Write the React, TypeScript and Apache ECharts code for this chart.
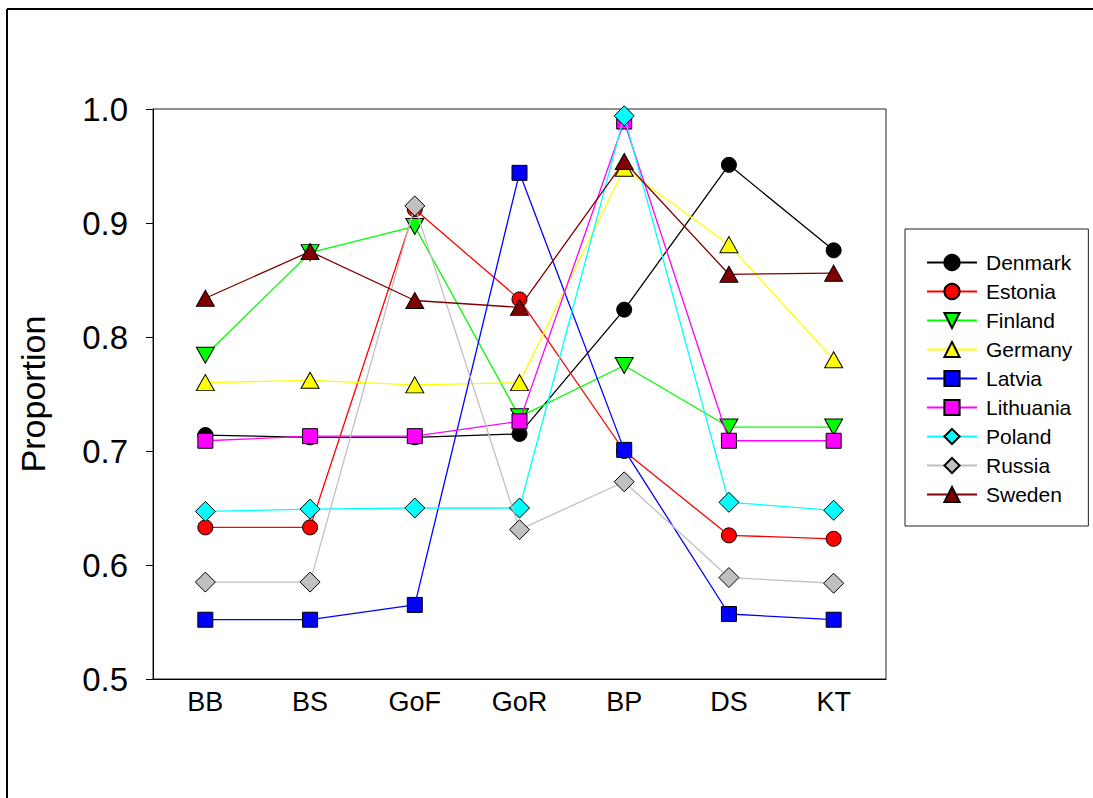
import React, { useEffect, useRef } from "react";
import * as echarts from "echarts";

const categories = ["BB", "BS", "GoF", "GoR", "BP", "DS", "KT"];
const yTicks = [0.5, 0.6, 0.7, 0.8, 0.9, 1.0];

const denmark = [0.714, 0.712, 0.712, 0.715, 0.824, 0.951, 0.876];
const estonia = [0.633, 0.633, 0.912, 0.833, 0.700, 0.626, 0.623];
const finland = [0.784, 0.874, 0.897, 0.730, 0.775, 0.721, 0.721];
const germany = [0.760, 0.762, 0.758, 0.760, 0.948, 0.881, 0.780];
const latvia = [0.552, 0.552, 0.565, 0.944, 0.701, 0.557, 0.552];
const lithuania = [0.709, 0.713, 0.713, 0.726, 0.989, 0.709, 0.709];
const poland = [0.647, 0.649, 0.650, 0.650, 0.994, 0.655, 0.648];
const russia = [0.585, 0.585, 0.915, 0.631, 0.673, 0.589, 0.584];
const sweden = [0.834, 0.875, 0.832, 0.826, 0.954, 0.855, 0.856];

const seriesNames = ["Denmark", "Estonia", "Finland", "Germany", "Latvia", "Lithuania", "Poland", "Russia", "Sweden"];
const seriesValues = [denmark, estonia, finland, germany, latvia, lithuania, poland, russia, sweden];
const seriesColors = ["#000000", "#ff0000", "#00ff00", "#ffff00", "#0000ff", "#ff00ff", "#00ffff", "#c0c0c0", "#800000"];
const seriesSymbols = ["circle", "circle", "triangle", "triangle", "rect", "rect", "diamond", "diamond", "triangle"];
const seriesRotate = [0, 0, 180, 0, 0, 0, 0, 0, 0];
const seriesSizes: any[] = [15, 15, [18, 16], [18, 16], 15, 15, 20, 20, [18, 16]];

const FONT = "Liberation Sans, Arial, sans-serif";

export default function App() {
  const ref = useRef<HTMLDivElement>(null);
  useEffect(() => {
    if (!ref.current) return;
    const chart = echarts.init(ref.current, null, { renderer: "svg" });
    const series = seriesNames.map((name, i) => ({
      name,
      type: "line",
      data: seriesValues[i],
      symbol: seriesSymbols[i],
      symbolSize: seriesSizes[i],
      symbolRotate: seriesRotate[i],
      showAllSymbol: true,
      lineStyle: { color: seriesColors[i], width: 1.3 },
      itemStyle: { color: seriesColors[i], borderColor: "#000", borderWidth: 1 },
      emphasis: { disabled: true },
      z: 2 + i,
    }));
    chart.setOption({
      animation: false,
      backgroundColor: "#fff",
      textStyle: { fontFamily: FONT },
      grid: {
        left: 153,
        top: 109,
        right: 207,
        bottom: 119,
        show: true,
        borderColor: "#222",
        borderWidth: 1,
        backgroundColor: "transparent",
      },
      legend: {
        orient: "vertical",
        left: 905,
        top: 229,
        padding: [23, 16, 21, 21],
        itemWidth: 50,
        itemHeight: 19,
        itemGap: 8,
        borderColor: "#222",
        borderWidth: 1,
        selectedMode: false,
        data: seriesNames,
        textStyle: { fontFamily: FONT, fontSize: 21, color: "#000", padding: [0, 0, 0, 4] },
      },
      xAxis: {
        type: "category",
        data: categories,
        boundaryGap: true,
        axisLine: { lineStyle: { color: "#000", width: 1 } },
        axisTick: { alignWithLabel: true, length: 7, lineStyle: { color: "#000" } },
        axisLabel: { fontSize: 27, color: "#000", margin: 9, fontFamily: FONT },
        splitLine: { show: false },
      },
      yAxis: {
        type: "value",
        min: 0.5,
        max: 1.0,
        interval: 0.1,
        name: "Proportion",
        nameLocation: "middle",
        nameRotate: 90,
        nameGap: 103,
        nameTextStyle: { fontSize: 34, color: "#000", fontFamily: FONT },
        axisLine: { show: true, lineStyle: { color: "#000", width: 1 } },
        axisTick: { show: true, length: 7, lineStyle: { color: "#000" } },
        axisLabel: {
          fontSize: 33,
          color: "#000",
          margin: 25,
          fontFamily: FONT,
          formatter: (v: number) => {
            const match = yTicks.find((t) => Math.abs(t - v) < 1e-9);
            return (match ?? v).toFixed(1);
          },
        },
        splitLine: { show: false },
      },
      graphic: [
        { type: "line", shape: { x1: 7, y1: 9, x2: 1093, y2: 9 }, style: { stroke: "#000", lineWidth: 2 } },
        { type: "line", shape: { x1: 7, y1: 9, x2: 7, y2: 798 }, style: { stroke: "#000", lineWidth: 2 } },
      ],
      series,
    });
    return () => chart.dispose();
  }, []);
  return (
    <div
      ref={ref}
      style={{ position: "fixed", left: 0, top: 0, width: 1093, height: 798, background: "#fff" }}
    />
  );
}
